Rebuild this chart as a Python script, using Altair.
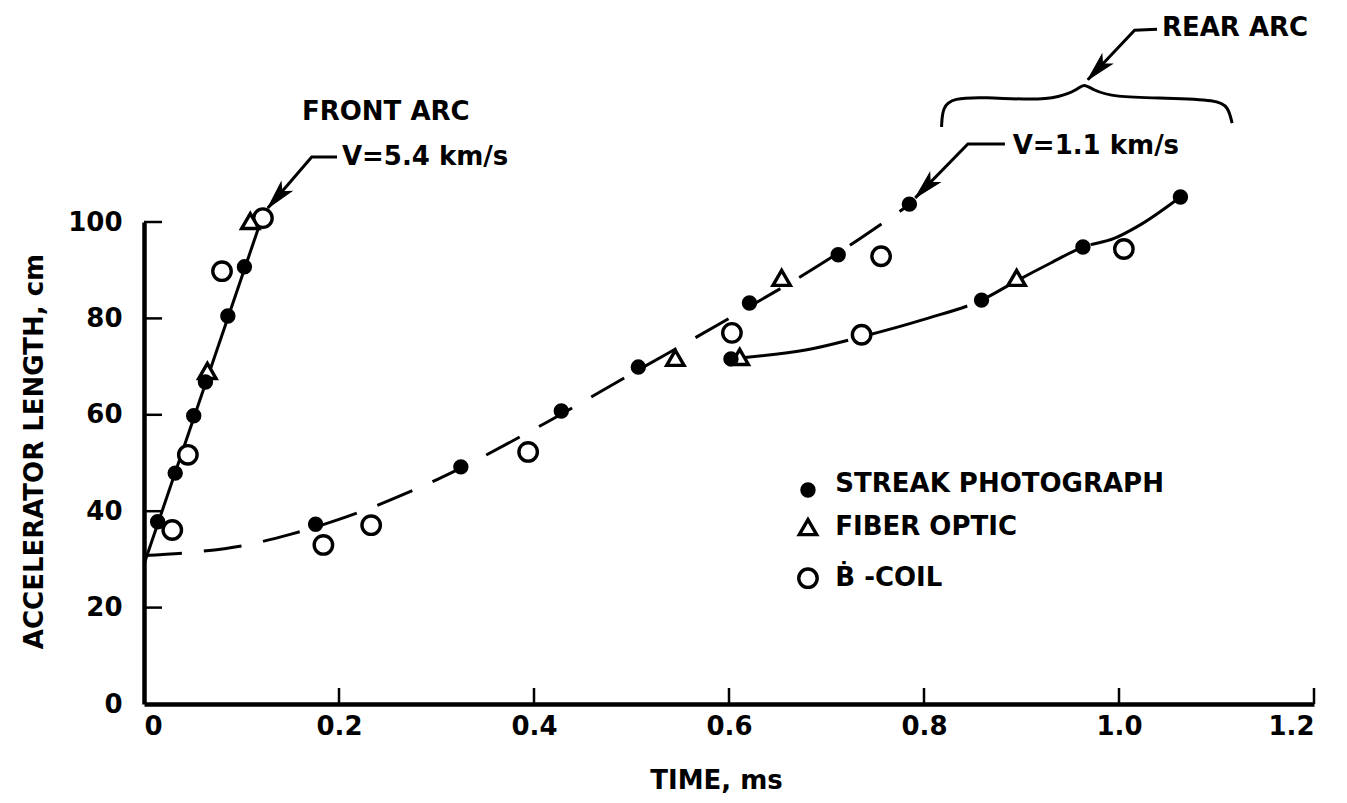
import altair as alt
import pandas as pd

# ---------------- data ----------------
# Streak photograph (filled circles)
streak_t = [0.014, 0.032, 0.051, 0.063, 0.086, 0.103,
            0.176, 0.325, 0.428, 0.507, 0.602, 0.621, 0.712, 0.785,
            0.859, 0.963, 1.063]
streak_len = [37.8, 47.9, 59.8, 66.8, 80.5, 90.7,
              37.3, 49.2, 60.8, 69.9, 71.6, 83.2, 93.2, 103.7,
              83.8, 94.8, 105.2]
# Fiber optic (triangles)
fiber_t = [0.065, 0.109, 0.545, 0.611, 0.654, 0.895]
fiber_len = [69.1, 100.2, 71.8, 72.0, 88.4, 88.4]
# B-dot coil (open circles)
bcoil_t = [0.029, 0.045, 0.080, 0.122, 0.184, 0.233, 0.394, 0.603,
           0.736, 0.756, 1.005]
bcoil_len = [36.1, 51.7, 89.8, 100.8, 33.0, 37.1, 52.3, 77.0,
             76.6, 92.9, 94.4]

# Hand-drawn fit curves
front_fit_t = [0.0, 0.122]
front_fit_len = [29.0, 101.5]
mid_fit_t = [0.0, 0.05, 0.1, 0.15, 0.2, 0.3, 0.4, 0.5, 0.6, 0.7, 0.79]
mid_fit_len = [30.8, 31.5, 32.8, 35.2, 38.3, 46.5, 57.0, 68.5, 80.0, 92.0, 104.3]
rear_fit_t = [0.611, 0.68, 0.736, 0.8, 0.859, 0.895, 0.93, 0.963, 0.995, 1.02, 1.063]
rear_fit_len = [71.8, 73.5, 76.2, 79.8, 83.8, 87.8, 91.5, 94.8, 96.6, 99.2, 105.2]

# Axis ticks
x_ticks = [0.0, 0.2, 0.4, 0.6, 0.8, 1.0, 1.2]
y_ticks = [0, 20, 40, 60, 80, 100]

# Annotations
ann_text = ["FRONT ARC", "V=5.4 km/s", "V=1.1 km/s", "REAR ARC"]
ann_t = [0.162, 0.203, 0.891, 1.044]
ann_len = [122.8, 113.5, 115.8, 140.2]

leader_group = [1, 1, 1, 2, 2, 2, 3, 3, 3]
leader_t = [0.198, 0.172, 0.127, 0.883, 0.845, 0.791, 1.039, 1.016, 0.968]
leader_len = [113.5, 113.5, 102.9, 116.2, 116.2, 105.0, 140.0, 139.8, 129.5]
arrow_t = [0.127, 0.791, 0.968]
arrow_len = [102.9, 105.0, 129.5]
arrow_angle = [221, 224, 223]

brace_t = [0.818, 0.819, 0.830, 0.861, 0.912, 0.939, 0.957, 0.964,
           0.973, 0.994, 1.049, 1.101, 1.112, 1.116]
brace_len = [119.7, 123.9, 125.7, 125.9, 125.3, 125.9, 127.4, 128.8,
             127.4, 125.9, 125.7, 125.3, 123.9, 120.5]

legend_labels = ["STREAK PHOTOGRAPH", "FIBER OPTIC", "Ḃ -COIL"]
legend_sym_t = [0.681, 0.681, 0.681]
legend_sym_len = [44.4, 36.7, 26.1]
legend_txt_t = [0.709, 0.709, 0.709]
legend_txt_len = [45.6, 36.7, 26.1]

# ---------------- chart ----------------
W, H = 1170, 482
FONT = "DejaVu Sans"
FS = 26

xscale = alt.Scale(domain=[0, 1.2], nice=False, zero=False)
yscale = alt.Scale(domain=[0, 100], nice=False, zero=False)
xaxis = alt.Axis(values=x_ticks, ticks=False, tickSize=0, grid=False,
                 labelExpr="datum.value == 0 ? '0' : format(datum.value, '.1f')",
                 labelFontSize=FS, labelFont=FONT, labelFontWeight="bold",
                 labelColor="black", labelPadding=9, labelBaseline="top",
                 domainColor="black", domainWidth=4.5,
                 title="TIME, ms", titleFont=FONT, titleFontSize=FS,
                 titleFontWeight="bold", titleColor="black",
                 titleX=572, titleY=76, titleBaseline="middle", titleAlign="center")
yaxis = alt.Axis(values=y_ticks, ticks=False, tickSize=0, grid=False,
                 labelFontSize=FS, labelFont=FONT, labelFontWeight="bold",
                 labelColor="black", labelPadding=22,
                 domainColor="black", domainWidth=4.5,
                 title="ACCELERATOR LENGTH, cm", titleFont=FONT, titleFontSize=FS,
                 titleFontWeight="bold", titleColor="black",
                 titleX=-110, titleY=229, titleBaseline="middle", titleAlign="center",
                 titleAngle=270)

X = alt.X("t:Q", scale=xscale, axis=xaxis)
Y = alt.Y("len:Q", scale=yscale, axis=yaxis)

def df(t, l, **extra):
    d = {"t": t, "len": l}
    d.update(extra)
    return pd.DataFrame(d)

front_line = alt.Chart(df(front_fit_t, front_fit_len)).mark_line(
    color="black", strokeWidth=3).encode(x=X, y=Y)
mid_line = alt.Chart(df(mid_fit_t, mid_fit_len)).mark_line(
    color="black", strokeWidth=3, strokeDash=[38, 22], interpolate="monotone").encode(x=X, y=Y)
rear_line = alt.Chart(df(rear_fit_t, rear_fit_len)).mark_line(
    color="black", strokeWidth=3, strokeDash=[110, 14], interpolate="monotone").encode(x=X, y=Y)

def streak_mark(data):
    return alt.Chart(data).mark_point(shape="circle", filled=True, fill="black",
                                      stroke="black", size=180, opacity=1).encode(x=X, y=Y)

def fiber_mark(data):
    return alt.Chart(data).mark_point(shape="triangle-up", filled=True, fill="white",
                                      stroke="black", strokeWidth=3.4, size=300,
                                      opacity=1).encode(x=X, y=Y)

def bcoil_mark(data):
    return alt.Chart(data).mark_point(shape="circle", filled=True, fill="white",
                                      stroke="black", strokeWidth=3.4, size=340,
                                      opacity=1).encode(x=X, y=Y)

pts_b = bcoil_mark(df(bcoil_t, bcoil_len))
pts_f = fiber_mark(df(fiber_t, fiber_len))
pts_s = streak_mark(df(streak_t, streak_len))

# inward ticks
xtick_rules = alt.Chart(df(x_ticks[1:], [0] * (len(x_ticks) - 1))).mark_rule(
    color="black", strokeWidth=2.5).encode(x=X, y=alt.value(H), y2=alt.value(H - 16))
ytick_rules = alt.Chart(df([0] * (len(y_ticks) - 1), y_ticks[1:])).mark_rule(
    color="black", strokeWidth=2.5).encode(y=Y, x=alt.value(0), x2=alt.value(18))

ann = alt.Chart(df(ann_t, ann_len, label=ann_text)).mark_text(
    align="left", baseline="middle", font=FONT, fontSize=FS, fontWeight="bold",
    color="black").encode(x=X, y=Y, text="label:N")

leaders = alt.Chart(df(leader_t, leader_len, g=leader_group,
                       o=list(range(len(leader_t))))).mark_line(
    color="black", strokeWidth=3).encode(x=X, y=Y, detail="g:N", order="o:Q")

arrows = alt.Chart(df(arrow_t, arrow_len, ang=arrow_angle)).mark_point(
    shape="M0,0L0.42,1.7L0,1.3L-0.42,1.7Z", filled=True, fill="black", stroke="black",
    strokeWidth=1, size=1100, opacity=1).encode(
    x=X, y=Y, angle=alt.Angle("ang:Q", scale=None))

brace = alt.Chart(df(brace_t, brace_len, o=list(range(len(brace_t))))).mark_line(
    color="black", strokeWidth=3, interpolate="basis").encode(x=X, y=Y, order="o:Q")

leg_s = streak_mark(df(legend_sym_t[:1], legend_sym_len[:1]))
leg_f = fiber_mark(df(legend_sym_t[1:2], legend_sym_len[1:2]))
leg_b = bcoil_mark(df(legend_sym_t[2:], legend_sym_len[2:]))
leg_txt = alt.Chart(df(legend_txt_t, legend_txt_len, label=legend_labels)).mark_text(
    align="left", baseline="middle", font=FONT, fontSize=FS, fontWeight="bold",
    color="black").encode(x=X, y=Y, text="label:N")

chart = alt.layer(
    front_line, mid_line, rear_line, xtick_rules, ytick_rules,
    pts_b, pts_f, pts_s, ann, leaders, arrows, brace,
    leg_s, leg_f, leg_b, leg_txt
).properties(
    width=W, height=H,
    padding={"left": 144, "top": 222, "right": 33, "bottom": 99},
    autosize=alt.AutoSizeParams(type="none"),
    background="white"
).configure_view(stroke=None)

chart.save("out.html", embed_options={"renderer": "svg", "actions": False})
